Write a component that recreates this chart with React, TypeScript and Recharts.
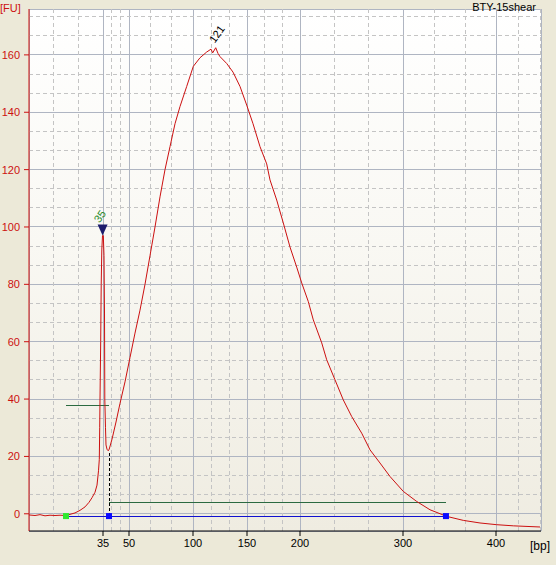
import {
  ComposedChart,
  Line,
  Scatter,
  XAxis,
  YAxis,
  CartesianGrid,
  ReferenceLine,
  ReferenceDot,
} from "recharts"

// ladder: size in bp and its migration time (s)
const ladderBp = [35, 50, 100, 150, 200, 300, 400]
const ladderTime = [42.625, 44.25, 48.25, 51.625, 54.938, 61.375, 67.188]
const extraMinorTimes = [39.5, 41.063, 68.563, 69.938]

const fuTicks = [0, 20, 40, 60, 80, 100, 120, 140, 160]

// electropherogram trace
const traceTime = [
  38.0, 38.375, 38.688, 39.0, 39.313, 39.625, 39.938, 40.313, 40.563, 40.875,
  41.188, 41.5, 41.75, 41.938, 42.125, 42.25, 42.344, 42.394, 42.419, 42.438,
  42.481, 42.513, 42.55, 42.594, 42.644, 42.688, 42.719, 42.738, 42.781, 42.813,
  42.875, 42.938, 43.0, 43.188, 43.438, 43.688, 44.0, 44.313, 44.625, 44.938,
  45.25, 45.563, 45.875, 46.188, 46.5, 46.813, 47.125, 47.438, 47.856, 48.269,
  48.688, 49.106, 49.375, 49.481, 49.669, 49.813, 49.938, 50.356, 50.75, 51.188,
  51.606, 52.0, 52.438, 52.856, 53.063, 53.481, 53.894, 54.313, 54.731, 55.044,
  55.456, 55.769, 56.294, 56.606, 57.125, 57.644, 58.169, 58.794, 59.313, 59.938,
  60.563, 61.394, 62.231, 63.063, 64.106, 65.144, 66.188, 67.231, 68.269, 69.938,
]
const traceFU = [
  -0.4, -0.6, -0.3, -0.7, -0.5, -0.6, -0.5, -0.6, -0.2, 0.3,
  1.2, 2.4, 4.0, 5.6, 7.5, 10, 15, 19, 30, 40,
  60, 80, 92, 97, 97, 90, 70, 40, 30, 24,
  22.5, 22, 22.3, 26, 32, 38.5, 46, 54.5, 63, 71,
  80, 90, 100, 110.5, 120, 128, 136, 142, 149, 156,
  159, 161, 162, 160.7, 162.5, 160.5, 159.4, 157, 154, 149,
  142.5, 136, 128, 122, 116.4, 109.4, 101.4, 93, 86, 80.5,
  74, 67.6, 59.6, 53.7, 46.7, 39.7, 33.9, 28.1, 22.3, 17.7,
  13, 7.8, 4.3, 1.4, -0.9, -2.3, -3.2, -3.8, -4.2, -4.6,
]

const lowerMarkerTime = 40.313
const regionStart = 43.0
const regionEnd = 64.06
const baselineFU = -0.8
const regionLineFU = 4.1
const markerHeightFU = 37.6
const dipFU = 21.8

const markerPeak = { t: 42.6, fu: 97, label: "35" }
const mainPeak = { t: 49.669, fu: 162.5, label: "121" }

const trace = traceTime.map((t, i) => ({ t, v: traceFU[i] }))
const lowerMarker = [{ t: lowerMarkerTime, v: baselineFU }]
const regionMarkers = [
  { t: regionStart, v: baselineFU },
  { t: regionEnd, v: baselineFU },
]

// dashed minor grid: thirds between major lines
const minorX: number[] = [...extraMinorTimes]
for (let i = 0; i < ladderTime.length - 1; i++) {
  const a = ladderTime[i]
  const b = ladderTime[i + 1]
  minorX.push(a + (b - a) / 3, a + (2 * (b - a)) / 3)
}
const minorY: number[] = []
for (let v = 0; v < 176; v += 20) {
  minorY.push(v + 20 / 3, v + 40 / 3)
}

const bpOf = (t: number) => {
  const i = ladderTime.indexOf(t)
  return i >= 0 ? String(ladderBp[i]) : ""
}

const FONT = "'Liberation Sans', Arial, sans-serif"
const RED = "#cc1010"
const GREEN = "#2b6a40"

export default function App() {
  return (
    <div
      style={{
        position: "absolute",
        left: 0,
        top: 0,
        width: 556,
        height: 565,
        background: "#ece9d8",
        fontFamily: FONT,
        overflow: "hidden",
      }}
    >
      <div
        style={{
          position: "absolute",
          left: 29,
          top: 9,
          width: 512,
          height: 522,
          background: "linear-gradient(to bottom, #ffffff 0%, #f9f8f3 45%, #efece1 100%)",
        }}
      />
      <div style={{ position: "absolute", left: 0, top: 0 }}>
        <ComposedChart
          width={556}
          height={565}
          margin={{ top: 9, right: 15, bottom: 0, left: 0 }}
        >
          <CartesianGrid stroke="#afb5c2" strokeWidth={1} shapeRendering="crispEdges" />
          {minorX.map((x) => (
            <ReferenceLine
              key={"mx" + x}
              x={x}
              stroke="#c4c4c4"
              strokeDasharray="4 3"
              shapeRendering="crispEdges"
            />
          ))}
          {minorY.map((y) => (
            <ReferenceLine
              key={"my" + y}
              y={y}
              stroke="#c4c4c4"
              strokeDasharray="4 3"
              shapeRendering="crispEdges"
            />
          ))}
          <XAxis
            type="number"
            dataKey="t"
            domain={[38, 70]}
            ticks={ladderTime}
            tickFormatter={bpOf}
            allowDataOverflow
            height={34}
            stroke="#000"
            tickSize={5}
            tickMargin={3}
            tick={{ fill: "#000", fontSize: 11, fontFamily: FONT }}
          />
          <YAxis
            type="number"
            domain={[-6, 176]}
            ticks={fuTicks}
            allowDataOverflow
            width={29}
            stroke={RED}
            tickSize={5}
            tickMargin={4}
            tick={{ fill: RED, fontSize: 11, fontFamily: FONT }}
          />
          <ReferenceLine
            segment={[
              { x: lowerMarkerTime, y: markerHeightFU },
              { x: regionStart, y: markerHeightFU },
            ]}
            stroke={GREEN}
            shapeRendering="crispEdges"
          />
          <ReferenceLine
            segment={[
              { x: regionStart, y: regionLineFU },
              { x: regionEnd, y: regionLineFU },
            ]}
            stroke={GREEN}
            shapeRendering="crispEdges"
          />
          <ReferenceLine
            segment={[
              { x: lowerMarkerTime, y: baselineFU },
              { x: regionEnd, y: baselineFU },
            ]}
            stroke="#1010d0"
            shapeRendering="crispEdges"
          />
          <ReferenceLine
            segment={[
              { x: regionStart, y: baselineFU },
              { x: regionStart, y: dipFU },
            ]}
            stroke="#000"
            strokeDasharray="3 2"
            shapeRendering="crispEdges"
          />
          <Line
            data={trace}
            dataKey="v"
            type="linear"
            stroke={RED}
            strokeWidth={1}
            dot={false}
            isAnimationActive={false}
          />
          <Scatter
            data={lowerMarker}
            dataKey="v"
            isAnimationActive={false}
            shape={(p: any) => (
              <rect x={p.cx - 3} y={p.cy - 3} width={6} height={6} fill="#2ee82e" />
            )}
          />
          <Scatter
            data={regionMarkers}
            dataKey="v"
            isAnimationActive={false}
            shape={(p: any) => (
              <rect x={p.cx - 3} y={p.cy - 3} width={6} height={6} fill="#0a0aff" />
            )}
          />
          <ReferenceDot
            x={markerPeak.t}
            y={markerPeak.fu}
            r={0}
            shape={(p: any) => (
              <g>
                <path
                  d={`M${p.cx - 5},${p.cy - 11} L${p.cx + 5},${p.cy - 11} L${p.cx},${p.cy} Z`}
                  fill="#1c1c6c"
                />
                <text
                  x={p.cx - 3}
                  y={p.cy - 12}
                  fill="#2a8a2a"
                  fontSize={11}
                  fontFamily={FONT}
                  transform={`rotate(-55 ${p.cx - 3} ${p.cy - 12})`}
                >
                  {markerPeak.label}
                </text>
              </g>
            )}
          />
          <ReferenceDot
            x={mainPeak.t}
            y={mainPeak.fu}
            r={0}
            shape={(p: any) => (
              <text
                x={p.cx - 1}
                y={p.cy - 4}
                fill="#000"
                fontSize={11}
                fontFamily={FONT}
                transform={`rotate(-55 ${p.cx - 1} ${p.cy - 4})`}
              >
                {mainPeak.label}
              </text>
            )}
          />
        </ComposedChart>
      </div>
      <div style={{ position: "absolute", left: 0, top: 2, fontSize: 11, color: RED, lineHeight: "13px" }}>
        [FU]
      </div>
      <div style={{ position: "absolute", right: 20, top: 1, fontSize: 11, color: "#000", lineHeight: "13px" }}>
        BTY-15shear
      </div>
      <div style={{ position: "absolute", left: 530, top: 539, fontSize: 12, color: "#000", lineHeight: "14px" }}>
        [bp]
      </div>
    </div>
  )
}
